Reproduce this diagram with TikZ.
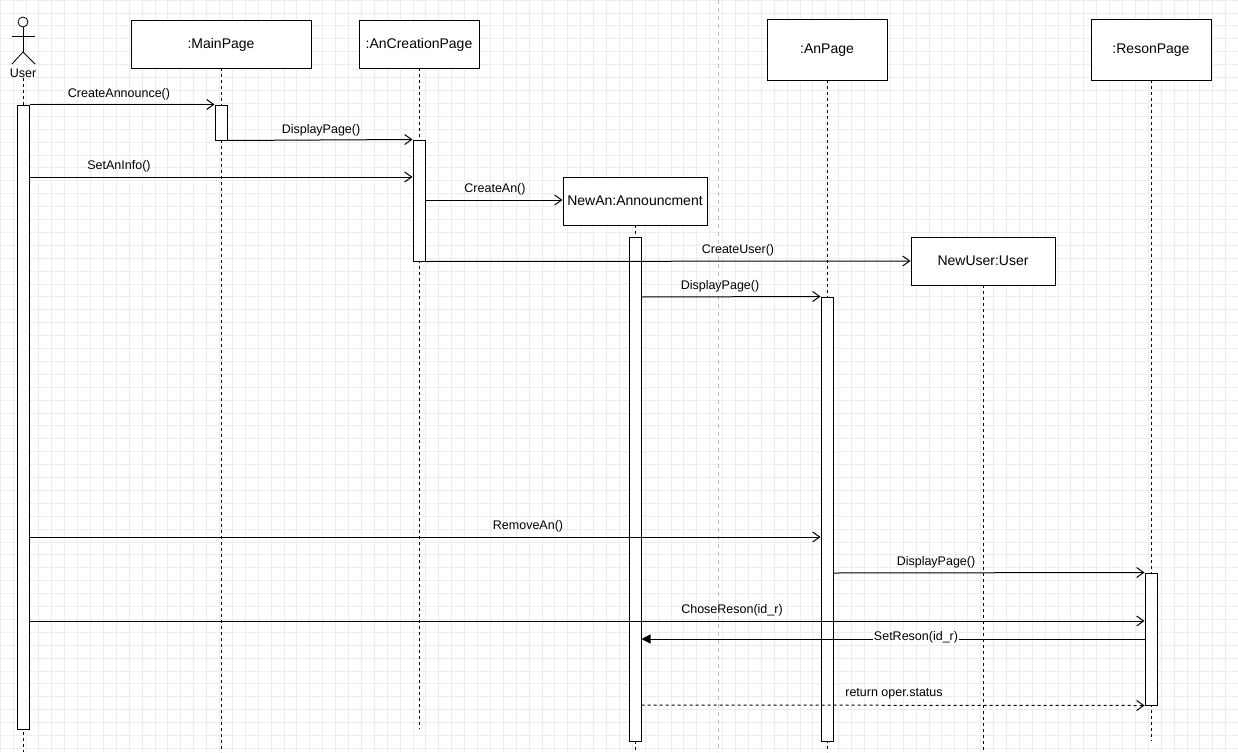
\documentclass[tikz,border=0pt]{standalone}
\usepackage{fontspec}
\setmainfont{Liberation Sans}
\usetikzlibrary{arrows.meta}
\begin{document}
\begin{tikzpicture}[x=1pt,y=-1pt,
  box/.style={draw,line width=1pt,fill=white,inner sep=0pt,font=\fontsize{14}{16}\selectfont},
  act/.style={draw,line width=1pt,fill=white,inner sep=0pt},
  life/.style={dash pattern=on 3pt off 3pt,line width=1pt},
  msg/.style={line width=1pt,-{Straight Barb[length=7pt,width=10pt]}},
  sync/.style={line width=1pt,-{Triangle[length=9pt,width=9pt]}},
  ret/.style={msg,dash pattern=on 3pt off 3pt},
  lbl/.style={font=\fontsize{12.5}{14}\selectfont,inner sep=1pt}]
\useasboundingbox (0,0) rectangle (1238,752);
\fill[white] (0,0) rectangle (1238,752);
\foreach \i in {0,...,96} \draw[gray!14,line width=0.6pt] (\i*12.9,0) -- (\i*12.9,752);
\foreach \j in {0,...,58} \draw[gray!14,line width=0.6pt] (0,\j*12.9) -- (1238,\j*12.9);
\draw[gray!50,dash pattern=on 4pt off 4pt,line width=0.6pt] (718,0) -- (718,752);
% lifelines
\draw[life] (23,78) -- (23,752);
\draw[life] (221,68) -- (221,752);
\draw[life] (419,68) -- (419,729);
\draw[life] (635,225) -- (635,752);
\draw[life] (827,80) -- (827,752);
\draw[life] (983,285) -- (983,752);
\draw[life] (1151,80) -- (1151,741);
% actor
\node[draw,circle,minimum size=10pt,inner sep=0pt,line width=0.8pt] (head) at (23,22) {};
\draw[line width=0.8pt] (head.south) -- (23,52) coordinate (hip);
\draw[line width=0.8pt] (12,36) -- (35,36);
\draw[line width=0.8pt] (12,64) -- (hip) -- (35,64);
\node[lbl] (user) at (23,73) {User};
% boxes
\node[box,minimum width=180pt,minimum height=47pt] (main) at (221,44.5) {:MainPage};
\node[box,minimum width=120pt,minimum height=47pt] (anc) at (419,44.5) {:AnCreationPage};
\node[box,minimum width=144pt,minimum height=48pt] (newan) at (635,201) {NewAn:Announcment};
\node[box,minimum width=120pt,minimum height=60pt] (anpage) at (827,50) {:AnPage};
\node[box,minimum width=144pt,minimum height=48pt] (newuser) at (983,261) {NewUser:User};
\node[box,minimum width=120pt,minimum height=60pt] (reson) at (1151,50) {:ResonPage};
% activations
\node[act,minimum width=12pt,minimum height=624pt] (aU) at (23,417) {};
\node[act,minimum width=12pt,minimum height=35pt] (aM) at (221,122.5) {};
\node[act,minimum width=12pt,minimum height=121pt] (aC) at (419,200.5) {};
\node[act,minimum width=12pt,minimum height=504pt] (aN) at (635,489) {};
\node[act,minimum width=12pt,minimum height=444pt] (aP) at (827,519) {};
\node[act,minimum width=12pt,minimum height=132pt] (aR) at (1151,639) {};
% messages
\draw[msg] (aU.north east) -- (aM.north west);
\node[lbl] at (119,94) {CreateAnnounce()};
\draw[msg] (aM.south east) -- (aC.north west);
\node[lbl] at (321,130) {DisplayPage()};
\draw[msg] (aU.east |- 0,177) -- (aC.west |- 0,177);
\node[lbl] at (119,166) {SetAnInfo()};
\draw[msg] (aC.east |- 0,200) -- (newan.west |- 0,200);
\node[lbl] at (495,189) {CreateAn()};
\draw[msg] (aC.south east) -- (newuser.west |- 0,261);
\node[lbl] at (738,250) {CreateUser()};
\draw[msg] (aN.east |- 0,297) -- (aP.north west);
\node[lbl] at (720,286) {DisplayPage()};
\draw[msg] (aU.east |- 0,537) -- (aP.west |- 0,537);
\node[lbl] at (528,526) {RemoveAn()};
\draw[msg] (aP.east |- 0,573) -- (aR.north west);
\node[lbl] at (936,562) {DisplayPage()};
\draw[msg] (aU.east |- 0,621) -- (aR.west |- 0,621);
\node[lbl] at (732,610) {ChoseReson(id\_r)};
\draw[sync] (aR.west |- 0,639) -- (aN.east |- 0,639);
\node[lbl,fill=white,inner sep=0.5pt] at (916,637) {SetReson(id\_r)};
\draw[ret] (aN.east |- 0,705) -- (aR.south west);
\node[lbl] at (894,694) {return oper.status};
\end{tikzpicture}
\end{document}
